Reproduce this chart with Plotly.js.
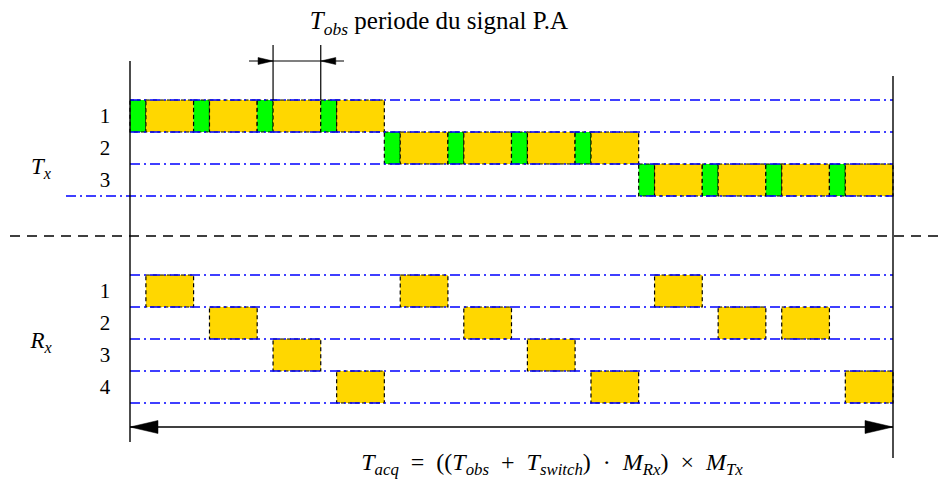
<!DOCTYPE html>
<html>
<head>
<meta charset="utf-8">
<script src="https://cdn.plot.ly/plotly-3.0.1.min.js"></script>
<style>html,body{margin:0;padding:0;background:#fff;}#chart{width:943px;height:484px;}</style>
</head>
<body>
<div id="chart"></div>
<script>
// ---- data ----
const txRows = ['1', '2', '3'];
const rxRows = ['1', '2', '3', '4'];
const slots = [0, 1, 2, 3, 4, 5, 6, 7, 8, 9, 10, 11];          // observation periods
const tSwitch = 0.25;                                          // switching time (fraction of a period)
const tObs = 0.75;                                             // observation time
const txActive = [1, 1, 1, 1, 2, 2, 2, 2, 3, 3, 3, 3];         // Tx antenna active per period
const rxActive = [1, 2, 3, 4, 1, 2, 3, 4, 1, 2, 2, 4];         // Rx antenna active per period
const txLabel = '<i>T</i><sub><i>x</i></sub>';
const rxLabel = '<i>R</i><sub><i>x</i></sub>';
const topLabel = '<i>T</i><sub><i>obs</i></sub> periode du signal P.A';
const bottomLabel = '<i>T</i><sub><i>acq</i></sub>&nbsp; = &nbsp;((<i>T</i><sub><i>obs</i></sub>&nbsp; + &nbsp;<i>T</i><sub><i>switch</i></sub>)&nbsp; · &nbsp;<i>M</i><sub><i>Rx</i></sub>)&nbsp; × &nbsp;<i>M</i><sub><i>Tx</i></sub>';

// ---- layout geometry ----
const W = 943, H = 484;
const X0PX = 130, X1PX = 893;
const nT = slots.length;
const u = nT / (X1PX - X0PX);
const px2t = p => (p - X0PX) * u;
const txTop = 100, rxTop = 275, laneH = 32;
const yellow = '#FFD700', green = '#00FF00', blue = '#0000FF';
const blockLine = {color: '#000', width: 1.2, dash: '4px,3px'};
const blueLine = {color: blue, width: 1.3, dash: '10px,4px,2px,4px'};
const FAMILY = 'Times';

const shapes = [];
const rect = (x0, x1, y0, y1, fill) => shapes.push({type: 'rect', xref: 'x', yref: 'y', x0, x1, y0, y1, fillcolor: fill, line: blockLine, layer: 'above'});

slots.forEach((s, i) => {
  const tr = txActive[i] - 1;
  const ty0 = txTop + tr * laneH;
  rect(s, s + tSwitch, ty0, ty0 + laneH, green);
  rect(s + tSwitch, s + tSwitch + tObs, ty0, ty0 + laneH, yellow);
  const rr = rxActive[i] - 1;
  const ry0 = rxTop + rr * laneH;
  rect(s + tSwitch, s + tSwitch + tObs, ry0, ry0 + laneH, yellow);
});

// blue lane lines
for (let k = 0; k <= txRows.length; k++) {
  shapes.push({type: 'line', xref: 'x', yref: 'y', x0: k === txRows.length ? px2t(66) : 0, x1: nT,
    y0: txTop + k * laneH, y1: txTop + k * laneH, line: blueLine, layer: 'above'});
}
for (let k = 0; k <= rxRows.length; k++) {
  shapes.push({type: 'line', xref: 'x', yref: 'y', x0: 0, x1: nT,
    y0: rxTop + k * laneH, y1: rxTop + k * laneH, line: blueLine, layer: 'above'});
}

const black = w => ({color: '#000', width: w});
// separator
shapes.push({type: 'line', xref: 'x', yref: 'y', x0: px2t(10), x1: px2t(W), y0: 236, y1: 236, line: {color: '#000', width: 1.3, dash: '10px,7px'}});
// verticals
shapes.push({type: 'line', xref: 'x', yref: 'y', x0: 0, x1: 0, y0: 61, y1: 442, line: black(1.4)});
shapes.push({type: 'line', xref: 'x', yref: 'y', x0: nT, x1: nT, y0: 76, y1: 458, line: black(1.4)});
// top dimension (one period: slot 2 obs start to slot 3)
const dA = slots[2] + tSwitch, dB = slots[3];
shapes.push({type: 'line', xref: 'x', yref: 'y', x0: dA, x1: dA, y0: 45, y1: txTop, line: black(1.2)});
shapes.push({type: 'line', xref: 'x', yref: 'y', x0: dB, x1: dB, y0: 45, y1: txTop, line: black(1.2)});
shapes.push({type: 'line', xref: 'x', yref: 'y', x0: px2t(249), x1: px2t(344), y0: 61, y1: 61, line: black(1.1)});
const head = (xa, ya, path) => shapes.push({type: 'path', xref: 'x', yref: 'y', xsizemode: 'pixel', ysizemode: 'pixel', xanchor: xa, yanchor: ya, path, fillcolor: '#000', line: {color: '#000', width: 0.5}});
head(dA, 61, 'M0,0 L-15,3.5 L-15,-3.5 Z');
head(dB, 61, 'M0,0 L15,3.5 L15,-3.5 Z');
// bottom double arrow
shapes.push({type: 'line', xref: 'x', yref: 'y', x0: 0, x1: nT, y0: 427, y1: 427, line: black(1.3)});
head(0, 427, 'M0,0 L28,6.5 L28,-6.5 Z');
head(nT, 427, 'M0,0 L-28,6.5 L-28,-6.5 Z');

// ---- text labels as a text trace ----
const tx = [], ty = [], tt = [], ts = [];
function lab(x, y, text, size) { tx.push(x); ty.push(y); tt.push(text); ts.push(size); }
txRows.forEach((r, k) => lab(px2t(105), txTop + (k + 0.5) * laneH + 2, r, 21));
rxRows.forEach((r, k) => lab(px2t(105), rxTop + (k + 0.5) * laneH + 2, r, 21));
lab(px2t(41), 168, txLabel, 23);
lab(px2t(41), 342, rxLabel, 23);
lab(px2t(439), 23, topLabel, 25);
lab(px2t(552), 464, bottomLabel, 24);

const textTrace = {
  type: 'scatter', mode: 'text', x: tx, y: ty, text: tt,
  textposition: 'middle center',
  textfont: {family: FAMILY, size: ts, color: '#000000'},
  hoverinfo: 'skip', showlegend: false, cliponaxis: false
};

const layout = {
  width: W, height: H,
  margin: {l: 0, r: 0, t: 0, b: 0},
  paper_bgcolor: '#fff', plot_bgcolor: '#fff',
  showlegend: false,
  font: {family: FAMILY, color: '#000000'},
  xaxis: {range: [px2t(0), px2t(W)], showgrid: false, zeroline: false, showticklabels: false, ticks: '', showline: false, fixedrange: true},
  yaxis: {range: [H, 0], showgrid: false, zeroline: false, showticklabels: false, ticks: '', showline: false, fixedrange: true},
  shapes: shapes
};
Plotly.newPlot('chart', [textTrace], layout, {displayModeBar: false});
</script>
</body>
</html>
